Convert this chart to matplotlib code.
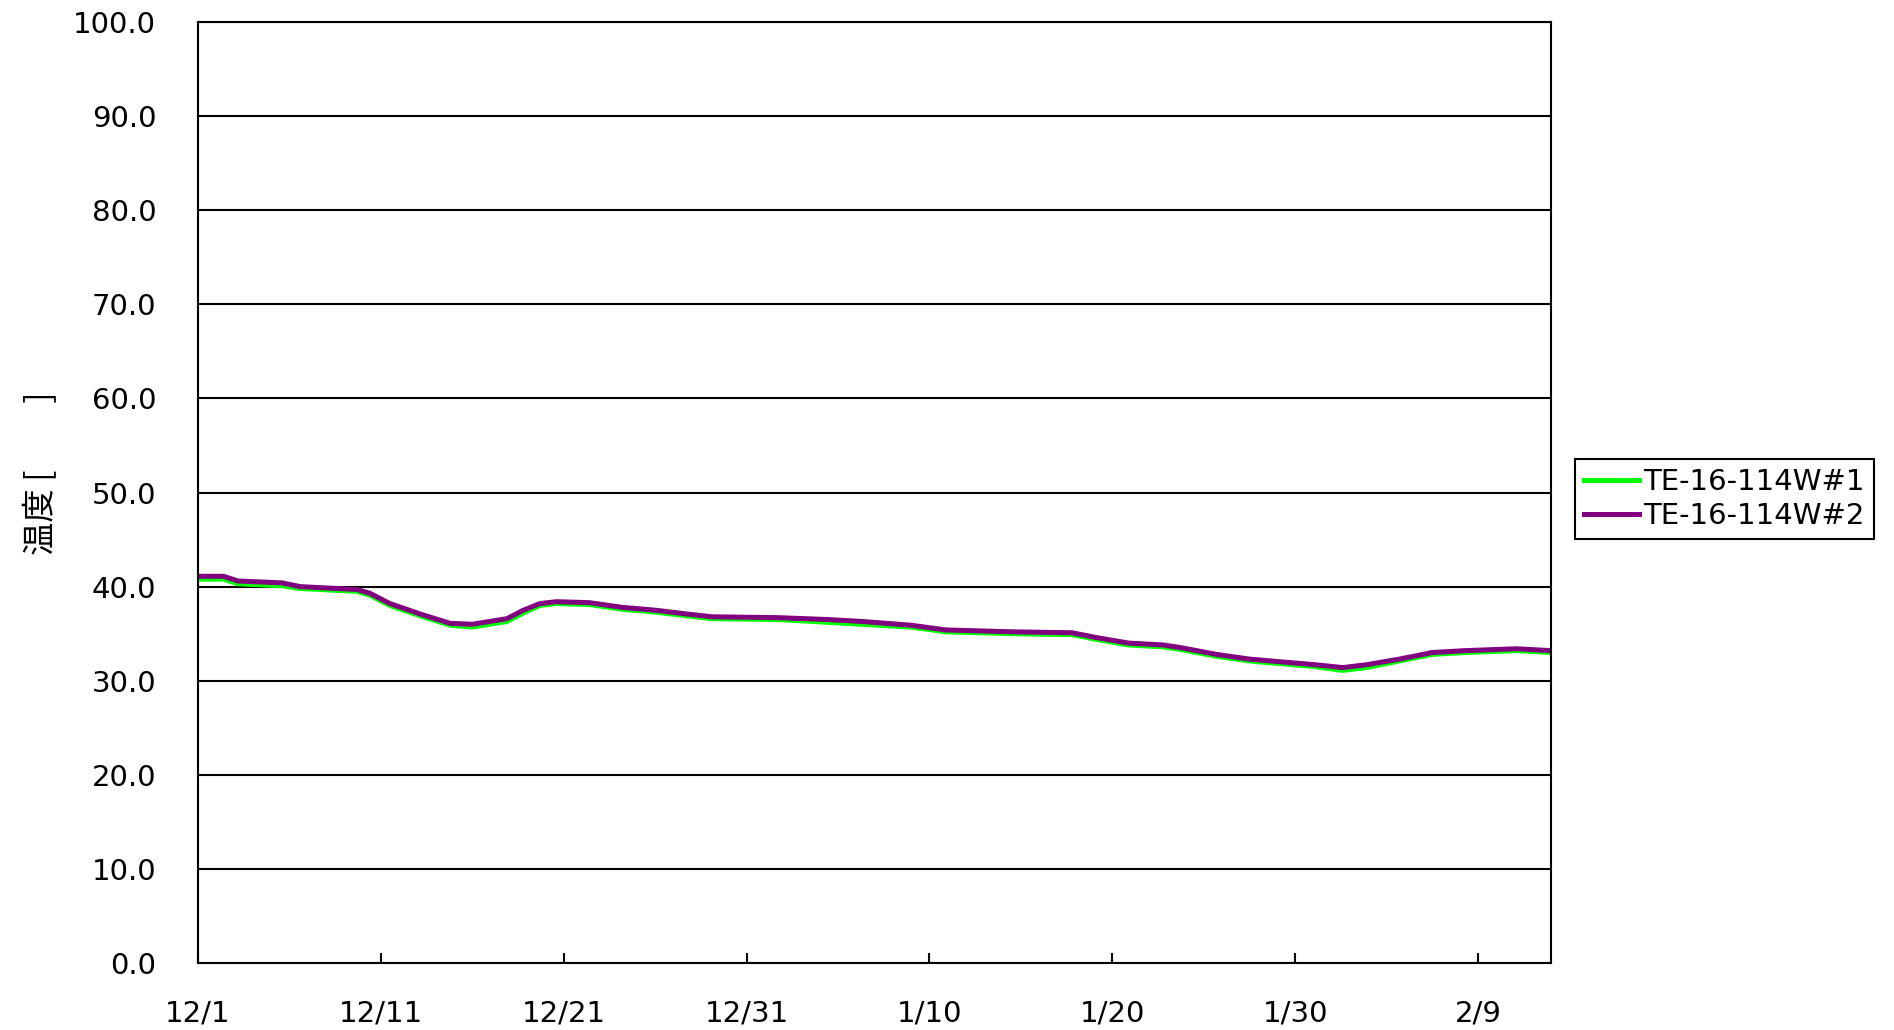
import matplotlib.pyplot as plt

plt.rcParams['font.family'] = ['DejaVu Sans', 'Noto Sans CJK JP']

# days since 12/1
days = [0, 1.4, 2.2, 4.6, 5.6, 8.7, 9.4, 10.5, 12.3, 13.8, 15.0, 16.9, 17.8, 18.7,
        19.6, 21.4, 23.2, 25.0, 26.7, 28.1, 31.8, 34.5, 36.3, 39.0, 40.9, 44.5,
        47.8, 49.1, 50.9, 52.8, 53.8, 55.7, 57.5, 59.3, 61.1, 62.6, 63.9, 65.7,
        67.5, 69.3, 72.1, 74.0]
te_w2 = [41.1, 41.1, 40.6, 40.4, 40.0, 39.7, 39.3, 38.2, 37.0, 36.1, 36.0, 36.6,
         37.5, 38.2, 38.4, 38.3, 37.8, 37.5, 37.1, 36.8, 36.7, 36.5, 36.3, 35.9,
         35.4, 35.2, 35.1, 34.6, 34.0, 33.8, 33.5, 32.8, 32.3, 32.0, 31.7, 31.4,
         31.7, 32.3, 33.0, 33.2, 33.4, 33.2]
te_w1 = [40.8, 40.8, 40.3, 40.1, 39.8, 39.5, 39.1, 38.0, 36.8, 35.9, 35.7, 36.3,
         37.2, 38.0, 38.2, 38.1, 37.6, 37.3, 36.9, 36.6, 36.5, 36.2, 36.0, 35.7,
         35.2, 35.0, 34.9, 34.4, 33.8, 33.6, 33.3, 32.6, 32.1, 31.8, 31.5, 31.1,
         31.4, 32.1, 32.8, 33.0, 33.2, 33.0]

tick_days = [0, 10, 20, 30, 40, 50, 60, 70]
tick_labels = ['12/1', '12/11', '12/21', '12/31', '1/10', '1/20', '1/30', '2/9']

fig = plt.figure(figsize=(18.94, 10.30), dpi=100)
ax = fig.add_axes([0.1045, 0.065, 0.7145, 0.9136])

ax.plot(days, te_w1, color='#00ff00', lw=3.6, label='TE-16-114W#1')
ax.plot(days, te_w2, color='#800080', lw=3.6, label='TE-16-114W#2')

ax.set_xlim(0, 74)
ax.set_ylim(0, 100)
ax.set_yticks(range(0, 101, 10))
ax.set_yticklabels([f'{v:.1f}' for v in range(0, 101, 10)])
ax.set_xticks(tick_days)
ax.set_xticklabels(tick_labels)
ax.yaxis.grid(True, color='black', lw=1.5)
ax.set_axisbelow(True)
for s in ax.spines.values():
    s.set_linewidth(1.5)
    s.set_color('black')

ax.tick_params(axis='y', length=0, pad=30, labelsize=21)
ax.tick_params(axis='x', direction='in', length=7, width=1.5, pad=26, labelsize=21)

fig.text(0.022, 0.541, '温度 [　　]', rotation=90, fontsize=24, ha='center', va='center',
         family=['Noto Sans CJK JP', 'DejaVu Sans'])

leg = fig.legend(loc='center left', bbox_to_anchor=(0.8315, 0.5155), fontsize=21,
                 frameon=True, fancybox=False, edgecolor='black', framealpha=1,
                 handlelength=1.9, handletextpad=0.15, borderpad=0.3, labelspacing=0.2,
                 borderaxespad=0)
leg.get_frame().set_linewidth(1.5)

fig.savefig('out.png', dpi=100)
